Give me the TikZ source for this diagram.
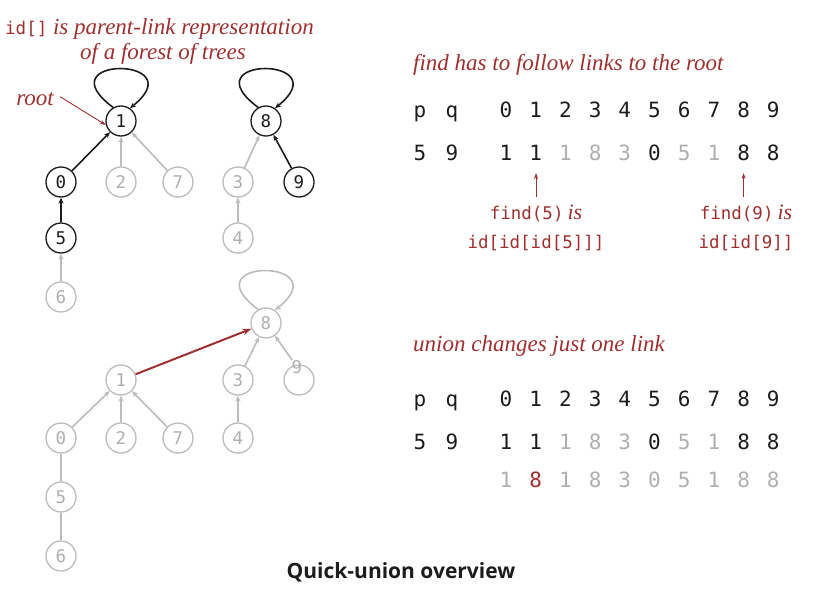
\documentclass[tikz,border=0pt]{standalone}
\usepackage{fontspec}
\setmainfont{Liberation Serif}
\newfontfamily\monof{DejaVu Sans Mono}
\newfontfamily\capf{Open Sans}
\usetikzlibrary{arrows.meta}
\definecolor{dred}{RGB}{158,48,48}
\definecolor{lgray}{RGB}{188,188,188}
\definecolor{tgray}{RGB}{175,175,175}
\definecolor{dk}{RGB}{28,28,28}
\begin{document}
\begin{tikzpicture}[x=1pt,y=-1pt,
  nb/.style={circle,draw=dk,line width=1.3pt,minimum size=30pt,inner sep=0pt,
    font=\monof\fontsize{17.5}{17.5}\selectfont,text=dk},
  ng/.style={nb,draw=lgray,text=tgray},
  eb/.style={draw=dk,line width=1.6pt,-{Stealth[length=6pt,width=5pt]}},
  eg/.style={draw=lgray,line width=1.6pt,-{Stealth[length=6pt,width=5pt]}},
  lg/.style={draw=lgray,line width=1.6pt},
  er/.style={draw=dred,line width=2pt,-{Stealth[length=9pt,width=6.5pt]}},
  ar/.style={draw=dred,line width=0.9pt,-{Stealth[length=6pt,width=4pt]}},
  note/.style={font=\itshape\fontsize{23}{23}\selectfont,text=dred,inner sep=0pt},
  mnote/.style={font=\monof\fontsize{17.5}{17.5}\selectfont,text=dred,inner sep=0pt,anchor=base},
  tab/.style={font=\monof\fontsize{21}{21}\selectfont,inner sep=0pt,anchor=base,text=dk},
  tabg/.style={tab,text=tgray},
  tabr/.style={tab,text=dred},
  loopb/.style={eb},
  loopg/.style={eg}
]
\useasboundingbox (0,0) rectangle (816,604);

% ---------- top forest ----------
\node[note,anchor=base west] (t-title1) at (5,35) {{\upshape\monof\fontsize{17.5}{17.5}\selectfont id[]} is parent-link representation};
\node[note,anchor=base] (t-title2) at (163,60) {of a forest of trees};
\node[note,anchor=base east] (t-root) at (54,106) {root};

\node[nb] (t1) at (121,121) {1};
\node[nb] (t8) at (266,121) {8};
\node[nb] (t0) at (61,182) {0};
\node[ng] (t2) at (121,182) {2};
\node[ng] (t7) at (178,182) {7};
\node[ng] (t3) at (238,182) {3};
\node[nb] (t9) at (299,182) {9};
\node[nb] (t5) at (61,238) {5};
\node[ng] (t4) at (238,238) {4};
\node[ng] (t6) at (61,297) {6};

\draw[ar] (t-root.east) ++(6,-3) coordinate (t-rootarrow) -- (t1.195);

\draw[eb] (t0) -- (t1);
\draw[eg] (t2) -- (t1);
\draw[eg] (t7) -- (t1);
\draw[eb] (t5) -- (t0);
\draw[eg] (t6) -- (t5);
\draw[eg] (t3) -- (t8);
\draw[eb] (t9) -- (t8);
\draw[eg] (t4) -- (t3);
\draw[loopb] (t1.120) .. controls +(-70,-52) and +(65,-52) .. (t1.55);
\draw[loopb] (t8.120) .. controls +(-70,-52) and +(65,-52) .. (t8.55);

% ---------- bottom forest ----------
\node[ng] (b8) at (266,323) {8};
\node[ng] (b1) at (121,380) {1};
\node[ng] (b3) at (238,380) {3};
\node[ng] (b9) at (299,380) {};
\node[font=\monof\fontsize{17.5}{17.5}\selectfont,text=tgray,inner sep=0pt] (b9t) at (297,367) {9};
\node[ng] (b0) at (61,438) {0};
\node[ng] (b2) at (121,438) {2};
\node[ng] (b7) at (178,438) {7};
\node[ng] (b4) at (238,438) {4};
\node[ng] (b5) at (61,497) {5};
\node[ng] (b6) at (61,556) {6};

\draw[eg] (b0) -- (b1);
\draw[eg] (b2) -- (b1);
\draw[eg] (b7) -- (b1);
\draw[eg] (b3) -- (b8);
\draw[eg] (b9t) -- (b8);
\draw[eg] (b4) -- (b3);
\draw[lg] (b0) -- (b5);
\draw[lg] (b5) -- (b6);
\draw[loopg] (b8.120) .. controls +(-70,-52) and +(65,-52) .. (b8.55);
\draw[er] (b1) -- (b8);

% ---------- find table ----------
\node[note,anchor=base west] (f-title) at (413,71) {find has to follow links to the root};
\node[tab] (f-p) at (420,118) {p};
\node[tab] (f-q) at (452,118) {q};
\node[tab] (f-5) at (420,161) {5};
\node[tab] (f-9) at (452,161) {9};
\foreach \i in {0,...,9} {
  \node[tab] (f-h\i) at ({506+29.7*\i},118) {\i};
}
\foreach \i/\v/\s in {0/1/tab,1/1/tab,2/1/tabg,3/8/tabg,4/3/tabg,5/0/tab,6/5/tabg,7/1/tabg,8/8/tab,9/8/tab} {
  \node[\s] (f-v\i) at ({506+29.7*\i},161) {\v};
}
\node[mnote] (f-l1) at (536,219) {find(5)\hspace{4pt}{\rmfamily\itshape\fontsize{22}{22}\selectfont is}};
\node[mnote] (f-l2) at (536,248) {id[id[id[5]]]};
\node[mnote] (f-l3) at (746,219) {find(9)\hspace{4pt}{\rmfamily\itshape\fontsize{22}{22}\selectfont is}};
\node[mnote] (f-l4) at (746,248) {id[id[9]]};
\coordinate (f-a1s) at (536.0,197);
\coordinate (f-a1e) at (536.0,173);
\coordinate (f-a2s) at (743.6,197);
\coordinate (f-a2e) at (743.6,173);
\draw[ar] (f-a1s) -- (f-a1e);
\draw[ar] (f-a2s) -- (f-a2e);

% ---------- union table ----------
\node[note,anchor=base west] (u-title) at (413,351) {union changes just one link};
\node[tab] (u-p) at (420,406) {p};
\node[tab] (u-q) at (452,406) {q};
\node[tab] (u-5) at (420,449) {5};
\node[tab] (u-9) at (452,449) {9};
\foreach \i in {0,...,9} {
  \node[tab] (u-h\i) at ({506+29.7*\i},406) {\i};
}
\foreach \i/\v/\s in {0/1/tab,1/1/tab,2/1/tabg,3/8/tabg,4/3/tabg,5/0/tab,6/5/tabg,7/1/tabg,8/8/tab,9/8/tab} {
  \node[\s] (u-v\i) at ({506+29.7*\i},449) {\v};
}
\foreach \i/\v/\s in {0/1/tabg,1/8/tabr,2/1/tabg,3/8/tabg,4/3/tabg,5/0/tabg,6/5/tabg,7/1/tabg,8/8/tabg,9/8/tabg} {
  \node[\s] (u-w\i) at ({506+29.7*\i},487) {\v};
}

% ---------- caption ----------
\node[font=\capf\bfseries\fontsize{21}{21}\selectfont,text=dk,anchor=base,inner sep=0pt] (caption) at (401,578) {Quick-union overview};
\end{tikzpicture}
\end{document}
